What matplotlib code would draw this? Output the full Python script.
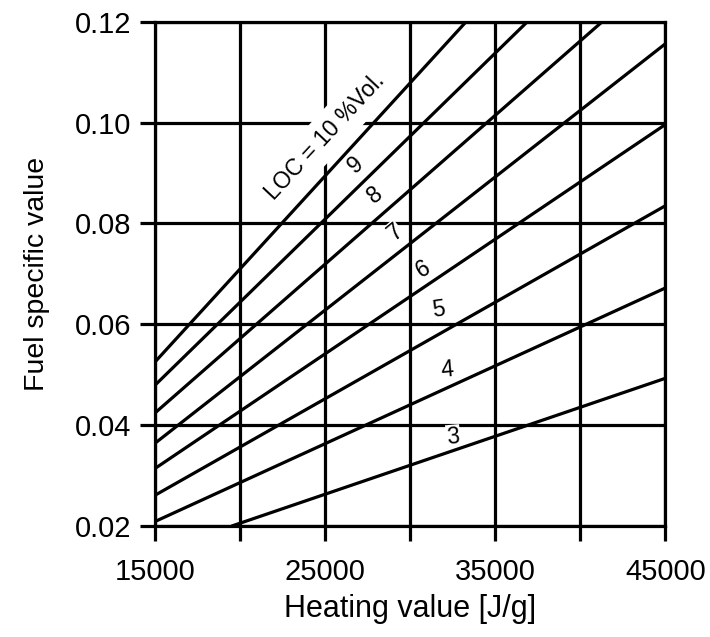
import numpy as np
import matplotlib
matplotlib.use('Agg')
import matplotlib.pyplot as plt

plt.rcParams['font.family'] = ['Liberation Sans', 'DejaVu Sans']

# Линии LOC: начало и конец (теплота сгорания, удельное значение топлива)
loc_values = [10, 9, 8, 7, 6, 5, 4, 3]
x_start = [15000, 15000, 15000, 15000, 15000, 15000, 15000, 19500]
y_start = [0.0525, 0.0479, 0.0424, 0.0364, 0.0314, 0.0261, 0.0209, 0.0200]
x_end = [33300, 36900, 41300, 45000, 45000, 45000, 45000, 45000]
y_end = [0.1200, 0.1200, 0.1200, 0.1156, 0.0996, 0.0835, 0.0672, 0.0493]

# Подписи линий
label_texts = ['LOC = 10 %Vol.', '9', '8', '7', '6', '5', '4', '3']
label_x = [25000, 26800, 27950, 29150, 30800, 31650, 32180, 32530]
label_y = [0.0972, 0.0916, 0.0857, 0.0783, 0.0710, 0.0629, 0.0510, 0.0377]
label_rot = [47, 40, 38, 40, 30, 8, 5, 5]
label_pad = [6.0, 2.0, 0.5, 0.0, 0.0, 0.5, 0.5, 0.5]

x_ticks = [15000, 20000, 25000, 30000, 35000, 40000, 45000]
x_tick_labels = ['15000', '', '25000', '', '35000', '', '45000']
y_ticks = [0.02, 0.04, 0.06, 0.08, 0.10, 0.12]
y_tick_labels = ['0.02', '0.04', '0.06', '0.08', '0.10', '0.12']

fig = plt.figure(figsize=(7.1, 6.37), dpi=100)
ax = fig.add_axes([0.218, 0.174, 0.719, 0.792])

lw = 2.3

# Сетка
for xv in x_ticks:
    ax.axvline(xv, color='black', linewidth=lw, zorder=1)
for yv in y_ticks:
    ax.axhline(yv, color='black', linewidth=lw, zorder=1)

# Линии LOC
for i in range(len(loc_values)):
    ax.plot([x_start[i], x_end[i]], [y_start[i], y_end[i]], color='black',
            linewidth=lw, solid_capstyle='butt', zorder=3)

# Подписи с белым фоном поверх сетки
for i in range(len(label_texts)):
    ax.text(label_x[i], label_y[i], label_texts[i], fontsize=16.5,
            rotation=label_rot[i], rotation_mode='anchor', ha='center', va='center',
            bbox=dict(facecolor='white', edgecolor='none', pad=label_pad[i]), zorder=2)

ax.set_xlim(15000, 45000)
ax.set_ylim(0.02, 0.12)
ax.set_xticks(x_ticks)
ax.set_xticklabels(x_tick_labels)
ax.set_yticks(y_ticks)
ax.set_yticklabels(y_tick_labels)
ax.tick_params(axis='both', direction='out', length=11, width=lw, labelsize=21,
               colors='black')
ax.tick_params(axis='x', pad=12)
ax.tick_params(axis='y', pad=6)
for s in ax.spines.values():
    s.set_linewidth(lw)
    s.set_color('black')

ax.set_xlabel('Heating value [J/g]', fontsize=22, labelpad=6)
ax.set_ylabel('Fuel specific value', fontsize=20.5, labelpad=18)

fig.savefig('out.png', dpi=100)
